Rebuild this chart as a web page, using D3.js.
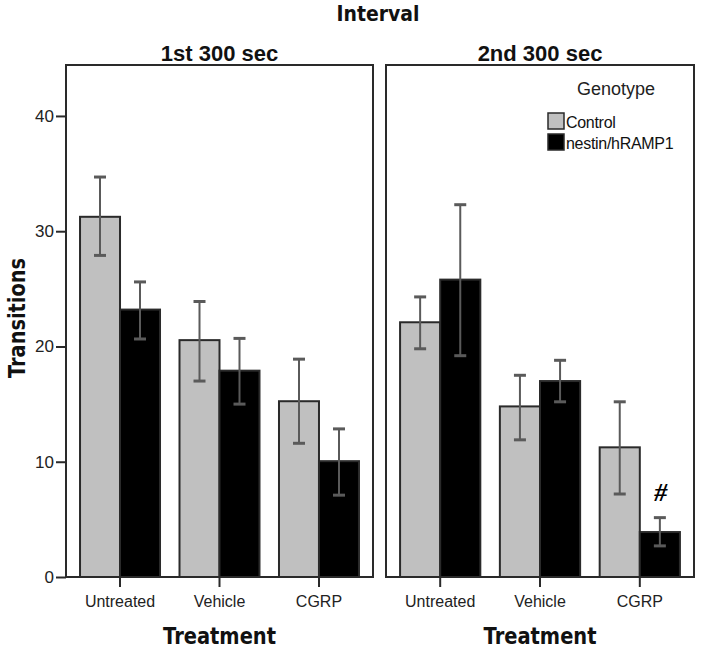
<!DOCTYPE html>
<html>
<head>
<meta charset="utf-8">
<script src="https://cdn.jsdelivr.net/npm/d3@7"></script>
<style>
  html, body { margin: 0; padding: 0; background: #fff; }
  svg { display: block; }
</style>
</head>
<body>
<div id="chart"></div>
<script>
// ---- Data ----
const panels = ["1st 300 sec", "2nd 300 sec"];
const treatments = ["Untreated", "Vehicle", "CGRP"];
const genotypes = ["Control", "nestin/hRAMP1"];

const controlMean1 = [31.25, 20.55, 15.25];
const controlLow1  = [27.9, 17.0, 11.6];
const controlHigh1 = [34.7, 23.9, 18.9];
const rampMean1    = [23.2, 17.9, 10.05];
const rampLow1     = [20.65, 15.0, 7.1];
const rampHigh1    = [25.6, 20.7, 12.85];

const controlMean2 = [22.1, 14.8, 11.25];
const controlLow2  = [19.8, 11.9, 7.2];
const controlHigh2 = [24.3, 17.5, 15.2];
const rampMean2    = [25.8, 17.0, 3.9];
const rampLow2     = [19.2, 15.2, 2.7];
const rampHigh2    = [32.3, 18.8, 5.15];

const yTicks = [0, 10, 20, 30, 40];
const annotations = [{ panel: 1, treatment: "CGRP", genotype: "nestin/hRAMP1", text: "#" }];

// ---- Build rows ----
const seriesByPanel = [
  [[controlMean1, controlLow1, controlHigh1], [rampMean1, rampLow1, rampHigh1]],
  [[controlMean2, controlLow2, controlHigh2], [rampMean2, rampLow2, rampHigh2]]
];
const rows = [];
panels.forEach((p, pi) => {
  genotypes.forEach((g, gi) => {
    treatments.forEach((t, ti) => {
      const s = seriesByPanel[pi][gi];
      rows.push({ panel: pi, genotype: g, treatment: t, mean: s[0][ti], low: s[1][ti], high: s[2][ti] });
    });
  });
});

// ---- Layout ----
const W = 706, H = 655;
const panelX = [[66, 373], [386, 694]];
const plotTop = 65, plotBottom = 577;

const svg = d3.select("#chart").append("svg").attr("width", W).attr("height", H);

const y = d3.scaleLinear().domain([0, 44.42]).range([plotBottom, plotTop]);
const color = d3.scaleOrdinal().domain(genotypes).range(["#c0c0c0", "#000000"]);

const sansFont = "'Liberation Sans', Arial, sans-serif";
const boldFont = "'DejaVu Sans', Verdana, sans-serif";

panels.forEach((pName, pi) => {
  const [x0, x1] = panelX[pi];
  const x = d3.scaleBand().domain(treatments).range([x0, x1]).paddingInner(0.196).paddingOuter(0.141);
  const xg = d3.scaleBand().domain(genotypes).range([0, x.bandwidth()]);
  const g = svg.append("g");
  const pr = rows.filter(r => r.panel === pi);

  // bars
  g.selectAll("rect.bar").data(pr).join("rect")
    .attr("class", "bar")
    .attr("x", d => x(d.treatment) + xg(d.genotype))
    .attr("y", d => y(d.mean))
    .attr("width", xg.bandwidth())
    .attr("height", d => y(0) - y(d.mean))
    .attr("fill", d => color(d.genotype))
    .attr("stroke", "#2a2a2a")
    .attr("stroke-width", 2);

  // error bars
  const cx = d => x(d.treatment) + xg(d.genotype) + xg.bandwidth() / 2;
  const eb = g.selectAll("g.err").data(pr).join("g").attr("class", "err")
    .attr("stroke", "#5a5a5a").attr("stroke-width", 2);
  eb.append("line").attr("x1", cx).attr("x2", cx).attr("y1", d => y(d.low)).attr("y2", d => y(d.high));
  eb.append("line").attr("x1", d => cx(d) - 6).attr("x2", d => cx(d) + 6).attr("y1", d => y(d.high)).attr("y2", d => y(d.high)).attr("stroke-width", 3);
  eb.append("line").attr("x1", d => cx(d) - 6).attr("x2", d => cx(d) + 6).attr("y1", d => y(d.low)).attr("y2", d => y(d.low)).attr("stroke-width", 3);

  // frame
  g.append("rect").attr("x", x0).attr("y", plotTop).attr("width", x1 - x0).attr("height", plotBottom - plotTop)
    .attr("fill", "none").attr("stroke", "#2a2a2a").attr("stroke-width", 2);

  // x axis
  const xAxis = d3.axisBottom(x).tickSize(10).tickPadding(6);
  const ax = g.append("g").attr("transform", `translate(0,${plotBottom})`).call(xAxis);
  ax.select(".domain").remove();
  ax.selectAll(".tick line").attr("stroke", "#2a2a2a").attr("stroke-width", 2);
  ax.selectAll(".tick text").attr("font-family", sansFont).attr("font-size", 16).attr("fill", "#222")
    .attr("dy", "0.9em");

  // panel title
  g.append("text").attr("x", (x0 + x1) / 2).attr("y", 61).attr("text-anchor", "middle")
    .attr("font-family", sansFont).attr("font-weight", "bold").attr("font-size", 22).attr("fill", "#111")
    .text(pName);

  // x axis title
  g.append("text").attr("x", (x0 + x1) / 2).attr("y", 644).attr("text-anchor", "middle")
    .attr("font-family", boldFont).attr("font-weight", "bold").attr("font-size", 23).attr("fill", "#111")
    .attr("textLength", 113).attr("lengthAdjust", "spacingAndGlyphs")
    .text("Treatment");

  if (pi === 0) {
    const yAxis = d3.axisLeft(y).tickValues(yTicks).tickSize(10).tickPadding(2).tickFormat(d3.format("d"));
    const ay = g.append("g").attr("transform", `translate(${x0},0)`).call(yAxis);
    ay.select(".domain").remove();
    ay.selectAll(".tick line").attr("stroke", "#2a2a2a").attr("stroke-width", 2);
    ay.selectAll(".tick text").attr("font-family", sansFont).attr("font-size", 17).attr("fill", "#222");
  }

  // annotations
  annotations.filter(a => a.panel === pi).forEach(a => {
    const r = pr.find(d => d.treatment === a.treatment && d.genotype === a.genotype);
    g.append("text").attr("x", cx(r) + 1).attr("y", y(r.high) - 17).attr("text-anchor", "middle")
      .attr("font-family", "'Liberation Serif', 'Times New Roman', serif").attr("font-weight", "bold")
      .attr("font-style", "italic").attr("font-size", 26).attr("fill", "#000").text(a.text);
  });
});

// overall title
svg.append("text").attr("x", 378).attr("y", 21).attr("text-anchor", "middle")
  .attr("font-family", boldFont).attr("font-weight", "bold").attr("font-size", 21).attr("fill", "#111")
  .attr("textLength", 83).attr("lengthAdjust", "spacingAndGlyphs")
  .text("Interval");

// y axis title
svg.append("text").attr("transform", "translate(25,318) rotate(-90)").attr("text-anchor", "middle")
  .attr("font-family", boldFont).attr("font-weight", "bold").attr("font-size", 23).attr("fill", "#111")
  .attr("textLength", 120).attr("lengthAdjust", "spacingAndGlyphs")
  .text("Transitions");

// legend
const lg = svg.append("g");
lg.append("text").attr("x", 616).attr("y", 95).attr("text-anchor", "middle")
  .attr("font-family", sansFont).attr("font-size", 18).attr("fill", "#222").text("Genotype");
const li = lg.selectAll("g.item").data(genotypes).join("g").attr("class", "item")
  .attr("transform", (d, i) => `translate(548,${113 + i * 21})`);
li.append("rect").attr("width", 16).attr("height", 16).attr("fill", d => color(d))
  .attr("stroke", "#2a2a2a").attr("stroke-width", 1.5);
li.append("text").attr("x", 18).attr("y", 15).attr("font-family", sansFont).attr("font-size", 16)
  .attr("fill", "#111").attr("letter-spacing", -0.3).text(d => d);
</script>
</body>
</html>
